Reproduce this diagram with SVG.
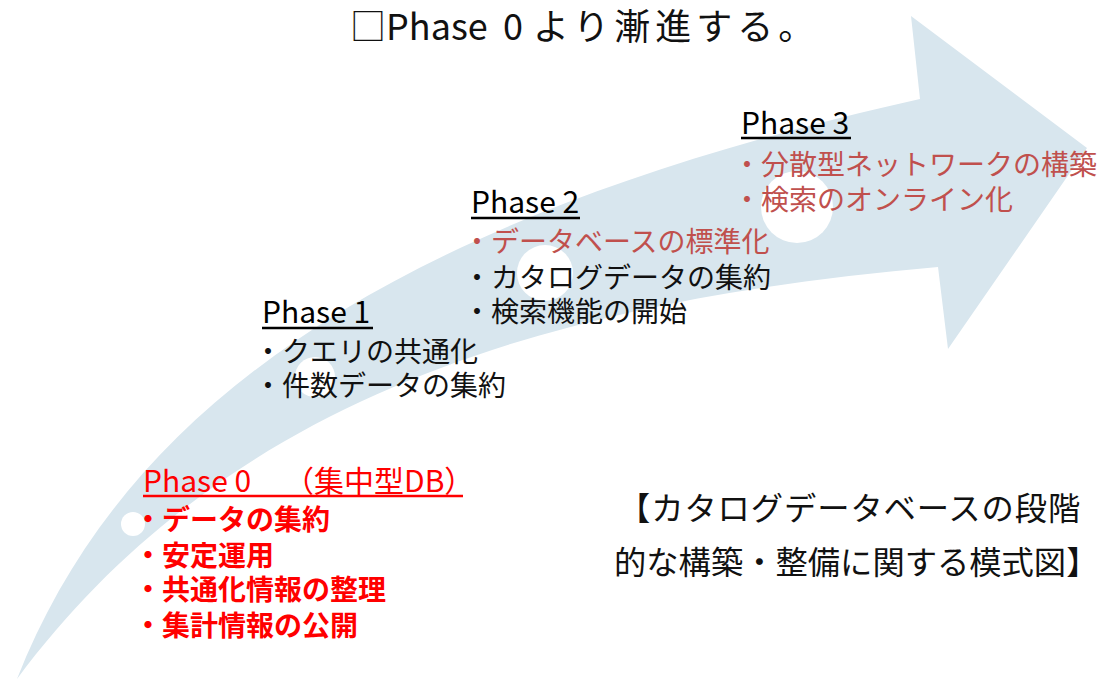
<svg xmlns="http://www.w3.org/2000/svg" width="1100" height="679" viewBox="0 0 1100 679">
<style>
text{font-family:"Noto Sans CJK JP","Noto Sans",sans-serif;}
.lbl{font-size:30px;fill:#000;}
.it{font-size:28px;fill:#111;}
.rd{fill:#c0504d;}
.p0{fill:#ff0000;}
.b{font-weight:bold;}
.ul{stroke:#000;stroke-width:2.5;}
.hole{fill:#fff;}
.cap{font-size:32.3px;fill:#111;}
</style>
<rect width="1100" height="679" fill="#fff"/>
<g id="connectors">
<path d="M17,679 C122,412 380,220 920,99 L911,16 L1087,148 L948,349 L938,267 C560,300 230,392 17,679 Z" fill="#d8e6ee"/>
<circle class="hole" cx="133" cy="524" r="12"/>
<circle class="hole" cx="315" cy="377" r="20"/>
<circle class="hole" cx="545" cy="273" r="28"/>
<circle class="hole" cx="797" cy="207" r="36"/>
</g>
<g id="title">
<text x="350" y="40" font-size="36" fill="#111">□Phase<tspan x="503">0</tspan><tspan x="533" letter-spacing="5">より漸進する。</tspan></text>
</g>
<g id="phase3">
<text class="lbl" x="741" y="134">Phase 3</text>
<line class="ul" x1="741" y1="138" x2="851" y2="138"/>
<text class="it rd" x="733" y="175">・分散型ネットワークの構築</text>
<text class="it rd" x="733" y="210">・検索のオンライン化</text>
</g>
<g id="phase2">
<text class="lbl" x="471" y="213">Phase 2</text>
<line class="ul" x1="471" y1="218" x2="580" y2="218"/>
<text class="it rd" x="463" y="252">・データベースの標準化</text>
<text class="it" x="463" y="288">・カタログデータの集約</text>
<text class="it" x="463" y="322">・検索機能の開始</text>
</g>
<g id="phase1">
<text class="lbl" x="262" y="323">Phase 1</text>
<line class="ul" x1="262" y1="328" x2="373" y2="328"/>
<text class="it" x="254" y="362">・クエリの共通化</text>
<text class="it" x="254" y="396">・件数データの集約</text>
</g>
<g id="phase0">
<text class="lbl p0" y="492"><tspan x="143">Phase 0</tspan><tspan x="284">（集中型DB）</tspan></text>
<line x1="143" y1="496" x2="463" y2="496" stroke="#ff0000" stroke-width="2.5"/>
<text class="it p0 b" x="134" y="530">・データの集約</text>
<text class="it p0 b" x="134" y="566">・安定運用</text>
<text class="it p0 b" x="134" y="600">・共通化情報の整理</text>
<text class="it p0 b" x="134" y="636">・集計情報の公開</text>
</g>
<g id="caption">
<text class="cap" x="618" y="520" letter-spacing="0.9">【カタログデータベースの段階</text>
<text class="cap" x="614" y="574">的な構築・整備に関する模式図】</text>
</g>
</svg>
